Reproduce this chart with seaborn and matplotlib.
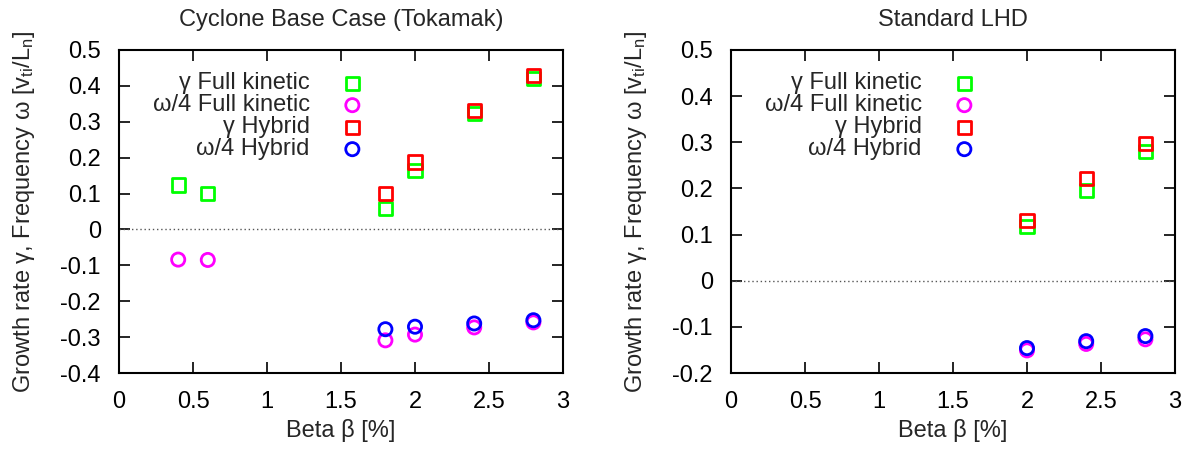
import pandas as pd
import seaborn as sns
import matplotlib.pyplot as plt

sns.set_style("ticks")
plt.rcParams["font.family"] = ["Liberation Sans", "DejaVu Sans"]
plt.rcParams["mathtext.fontset"] = "custom"
plt.rcParams["mathtext.rm"] = "Liberation Sans"

# Cyclone base case (tokamak)
cbc_beta_fk = [0.4, 0.6, 1.8, 2.0, 2.4, 2.8]
cbc_gamma_fk = [0.124, 0.100, 0.058, 0.165, 0.322, 0.421]
cbc_omega_fk = [-0.084, -0.085, -0.309, -0.293, -0.273, -0.259]
cbc_beta_hy = [1.8, 2.0, 2.4, 2.8]
cbc_gamma_hy = [0.100, 0.188, 0.332, 0.430]
cbc_omega_hy = [-0.278, -0.271, -0.262, -0.253]

# Standard LHD
lhd_beta = [2.0, 2.4, 2.8]
lhd_gamma_fk = [0.117, 0.196, 0.280]
lhd_omega_fk = [-0.151, -0.137, -0.127]
lhd_gamma_hy = [0.131, 0.221, 0.298]
lhd_omega_hy = [-0.146, -0.131, -0.120]

labels = ["\u03b3 Full kinetic", "\u03c9/4 Full kinetic",
          "\u03b3 Hybrid", "\u03c9/4 Hybrid"]
colors = ["#00ff00", "#ff00ff", "#ff0000", "#0000ff"]
markers = ["s", "o", "s", "o"]

panels = [
    {"title": "Cyclone Base Case (Tokamak)", "ylim": (-0.4, 0.5),
     "series": [(cbc_beta_fk, cbc_gamma_fk), (cbc_beta_fk, cbc_omega_fk),
                (cbc_beta_hy, cbc_gamma_hy), (cbc_beta_hy, cbc_omega_hy)]},
    {"title": "Standard LHD", "ylim": (-0.2, 0.5),
     "series": [(lhd_beta, lhd_gamma_fk), (lhd_beta, lhd_omega_fk),
                (lhd_beta, lhd_gamma_hy), (lhd_beta, lhd_omega_hy)]},
]

fig = plt.figure(figsize=(11.9, 4.5), dpi=100)
lefts = [119 / 1190, 731 / 1190]
fs = 17

for left, panel in zip(lefts, panels):
    ax = fig.add_axes([left, 1 - 373 / 450, 444 / 1190, 323 / 450])
    for (x, y), lab, c, m in zip(panel["series"], labels, colors, markers):
        df = pd.DataFrame({"beta": x, "value": y})
        sns.scatterplot(x="beta", y="value", data=df, marker=m, s=90,
                        facecolor="none", edgecolor=c, linewidth=2,
                        label=lab, ax=ax, zorder=3)
    ax.axhline(0, color="#555555", linestyle=(0, (1, 2)), linewidth=1)
    ax.set_xlim(0, 3)
    ax.set_ylim(*panel["ylim"])
    ax.set_xticks([0, 0.5, 1, 1.5, 2, 2.5, 3])
    ax.set_xticklabels(["0", "0.5", "1", "1.5", "2", "2.5", "3"])
    lo, hi = panel["ylim"]
    yt = [round(lo + 0.1 * i, 1) for i in range(int(round((hi - lo) / 0.1)) + 1)]
    ax.set_yticks(yt)
    ax.set_yticklabels(["0" if v == 0 else f"{v:g}" for v in yt])
    ax.tick_params(direction="in", length=8, width=1.2, top=True,
                   right=True, labelsize=fs, colors="black")
    ax.tick_params(axis="x", pad=13)
    ax.tick_params(axis="y", pad=13)
    for sp in ax.spines.values():
        sp.set_linewidth(1.5)
        sp.set_color("black")
    ax.set_title(panel["title"], fontsize=fs, pad=17)
    ax.set_xlabel("Beta \u03b2 [%]", fontsize=fs, labelpad=4)
    ax.set_ylabel("Growth rate \u03b3, Frequency \u03c9 "
                  r"[$\mathregular{v_{ti}/L_n}$]", fontsize=fs, labelpad=17)
    ax.legend(loc="upper right", bbox_to_anchor=(0.60, 0.96),
              markerfirst=False, frameon=False, fontsize=fs,
              handletextpad=0.8, labelspacing=0.0, borderaxespad=0)

fig.savefig("out.png", dpi=100)
